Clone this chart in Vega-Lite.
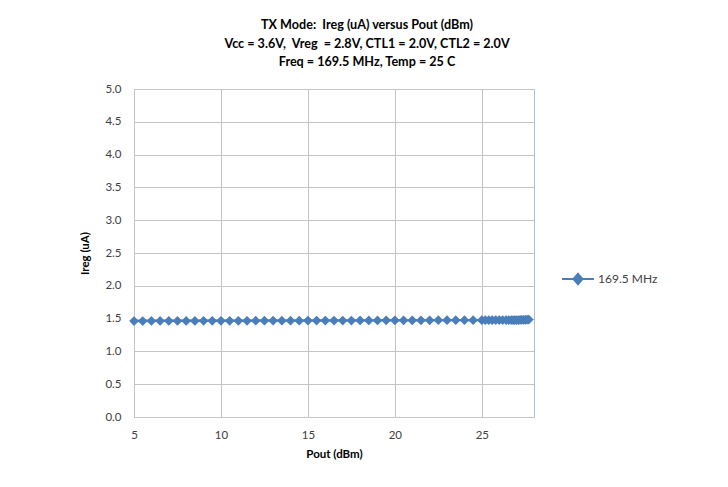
{
  "$schema": "https://vega.github.io/schema/vega-lite/v6.json",
  "width": 400,
  "height": 328,
  "autosize": {"type": "none"},
  "padding": {"left": 134, "top": 89, "right": 194, "bottom": 70},
  "background": "white",
  "title": {
    "text": ["TX Mode:\u00a0 Ireg (uA) versus Pout (dBm)", "Vcc = 3.6V,\u00a0 Vreg\u00a0 = 2.8V, CTL1 = 2.0V, CTL2 = 2.0V", "Freq = 169.5 MHz, Temp = 25 C"],
    "anchor": "middle",
    "dx": 33,
    "offset": 14,
    "font": "Lato",
    "fontSize": 12.6,
    "fontWeight": "bold",
    "color": "#000000",
    "lineHeight": 18.5
  },
  "config": {
    "font": "Lato",
    "view": {"stroke": "#a9c0dd", "strokeWidth": 1},
    "axis": {
      "labelFont": "Lato",
      "labelFontSize": 11.5,
      "labelColor": "#404040",
      "titleFont": "Lato",
      "titleFontSize": 11.5,
      "titleFontWeight": "bold",
      "titleColor": "#000000",
      "gridColor": "#c4c4c4",
      "gridWidth": 1,
      "gridOpacity": 1,
      "ticks": false,
      "domain": false
    }
  },
  "data": {
    "values": [
      {"pout": 5.0, "ireg": 1.463, "series": "169.5 MHz"},
      {"pout": 5.5, "ireg": 1.463, "series": "169.5 MHz"},
      {"pout": 6.0, "ireg": 1.464, "series": "169.5 MHz"},
      {"pout": 6.5, "ireg": 1.464, "series": "169.5 MHz"},
      {"pout": 7.0, "ireg": 1.464, "series": "169.5 MHz"},
      {"pout": 7.5, "ireg": 1.465, "series": "169.5 MHz"},
      {"pout": 8.0, "ireg": 1.465, "series": "169.5 MHz"},
      {"pout": 8.5, "ireg": 1.465, "series": "169.5 MHz"},
      {"pout": 9.0, "ireg": 1.466, "series": "169.5 MHz"},
      {"pout": 9.5, "ireg": 1.466, "series": "169.5 MHz"},
      {"pout": 10.0, "ireg": 1.466, "series": "169.5 MHz"},
      {"pout": 10.5, "ireg": 1.467, "series": "169.5 MHz"},
      {"pout": 11.0, "ireg": 1.467, "series": "169.5 MHz"},
      {"pout": 11.5, "ireg": 1.467, "series": "169.5 MHz"},
      {"pout": 12.0, "ireg": 1.468, "series": "169.5 MHz"},
      {"pout": 12.5, "ireg": 1.468, "series": "169.5 MHz"},
      {"pout": 13.0, "ireg": 1.468, "series": "169.5 MHz"},
      {"pout": 13.5, "ireg": 1.469, "series": "169.5 MHz"},
      {"pout": 14.0, "ireg": 1.469, "series": "169.5 MHz"},
      {"pout": 14.5, "ireg": 1.469, "series": "169.5 MHz"},
      {"pout": 15.0, "ireg": 1.470, "series": "169.5 MHz"},
      {"pout": 15.5, "ireg": 1.470, "series": "169.5 MHz"},
      {"pout": 16.0, "ireg": 1.470, "series": "169.5 MHz"},
      {"pout": 16.5, "ireg": 1.471, "series": "169.5 MHz"},
      {"pout": 17.0, "ireg": 1.471, "series": "169.5 MHz"},
      {"pout": 17.5, "ireg": 1.471, "series": "169.5 MHz"},
      {"pout": 18.0, "ireg": 1.472, "series": "169.5 MHz"},
      {"pout": 18.5, "ireg": 1.472, "series": "169.5 MHz"},
      {"pout": 19.0, "ireg": 1.472, "series": "169.5 MHz"},
      {"pout": 19.5, "ireg": 1.473, "series": "169.5 MHz"},
      {"pout": 20.0, "ireg": 1.473, "series": "169.5 MHz"},
      {"pout": 20.5, "ireg": 1.473, "series": "169.5 MHz"},
      {"pout": 21.0, "ireg": 1.474, "series": "169.5 MHz"},
      {"pout": 21.5, "ireg": 1.474, "series": "169.5 MHz"},
      {"pout": 22.0, "ireg": 1.474, "series": "169.5 MHz"},
      {"pout": 22.5, "ireg": 1.475, "series": "169.5 MHz"},
      {"pout": 23.0, "ireg": 1.475, "series": "169.5 MHz"},
      {"pout": 23.5, "ireg": 1.475, "series": "169.5 MHz"},
      {"pout": 24.0, "ireg": 1.476, "series": "169.5 MHz"},
      {"pout": 24.5, "ireg": 1.476, "series": "169.5 MHz"},
      {"pout": 25.0, "ireg": 1.476, "series": "169.5 MHz"},
      {"pout": 25.2, "ireg": 1.476, "series": "169.5 MHz"},
      {"pout": 25.4, "ireg": 1.476, "series": "169.5 MHz"},
      {"pout": 25.6, "ireg": 1.477, "series": "169.5 MHz"},
      {"pout": 25.8, "ireg": 1.477, "series": "169.5 MHz"},
      {"pout": 26.0, "ireg": 1.477, "series": "169.5 MHz"},
      {"pout": 26.2, "ireg": 1.477, "series": "169.5 MHz"},
      {"pout": 26.4, "ireg": 1.477, "series": "169.5 MHz"},
      {"pout": 26.55, "ireg": 1.477, "series": "169.5 MHz"},
      {"pout": 26.7, "ireg": 1.478, "series": "169.5 MHz"},
      {"pout": 26.8, "ireg": 1.478, "series": "169.5 MHz"},
      {"pout": 26.9, "ireg": 1.478, "series": "169.5 MHz"},
      {"pout": 27.0, "ireg": 1.478, "series": "169.5 MHz"},
      {"pout": 27.1, "ireg": 1.478, "series": "169.5 MHz"},
      {"pout": 27.2, "ireg": 1.479, "series": "169.5 MHz"},
      {"pout": 27.3, "ireg": 1.479, "series": "169.5 MHz"},
      {"pout": 27.4, "ireg": 1.480, "series": "169.5 MHz"},
      {"pout": 27.5, "ireg": 1.481, "series": "169.5 MHz"},
      {"pout": 27.6, "ireg": 1.483, "series": "169.5 MHz"},
      {"pout": 27.7, "ireg": 1.486, "series": "169.5 MHz"}
    ]
  },
  "encoding": {
    "x": {
      "field": "pout",
      "type": "quantitative",
      "title": "Pout (dBm)",
      "scale": {"domain": [5, 28], "nice": false, "zero": false},
      "axis": {"values": [5, 10, 15, 20, 25], "labelPadding": 12, "titlePadding": 8, "labelAlign": "center"}
    },
    "y": {
      "field": "ireg",
      "type": "quantitative",
      "title": "Ireg (uA)",
      "scale": {"domain": [0, 5], "nice": false},
      "axis": {"values": [0, 0.5, 1, 1.5, 2, 2.5, 3, 3.5, 4, 4.5, 5], "format": ".1f", "labelPadding": 13, "titlePadding": 14}
    }
  },
  "layer": [
    {
      "mark": {"type": "line", "strokeWidth": 2.25},
      "encoding": {
        "color": {
          "field": "series",
          "type": "nominal",
          "scale": {"range": ["#4a7ebb"]},
          "legend": {
            "title": null,
            "orient": "none",
            "legendX": 427,
            "legendY": 173,
            "symbolType": "M-1,0L1,0M0,-0.32L0.28,0L0,0.32L-0.28,0Z",
            "symbolSize": 1024,
            "symbolStrokeWidth": 2,
            "labelFont": "Lato",
            "labelFontSize": 12,
            "labelColor": "#404040",
            "labelOffset": 3,
            "encode": {
              "symbols": {"update": {
                "fill": {"value": "#4a7ebb"},
                "stroke": {"value": "#4a7ebb"},
                "strokeWidth": {"value": 2},
                "opacity": {"value": 1}
              }}
            }
          }
        }
      }
    },
    {
      "mark": {"type": "point", "shape": "diamond", "filled": true, "size": 95, "opacity": 1, "color": "#4a7ebb"},
      "encoding": {}
    }
  ]
}
